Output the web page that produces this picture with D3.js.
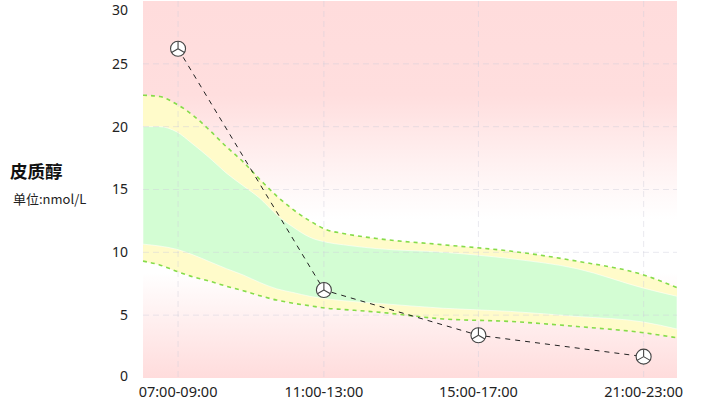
<!DOCTYPE html>
<html><head><meta charset="utf-8">
<script src="https://cdn.jsdelivr.net/npm/d3@7"></script>
<style>
html,body{margin:0;padding:0;background:#fff;}
svg{display:block;font-family:"Noto Sans","Noto Sans CJK SC",sans-serif;}
</style></head>
<body>
<svg id="chart" width="708" height="404"></svg>
<script>
// ---- data ----
const categories = ["07:00-09:00", "11:00-13:00", "15:00-17:00", "21:00-23:00"];
const categoryHours = [8.05, 12.42, 17.05, 22.0];
const cortisol = [26.2, 7.0, 3.4, 1.7];
const yTicks = [0, 5, 10, 15, 20, 25, 30];

const bandHours  = [7, 7.5, 8, 8.5, 9, 9.5, 10, 10.5, 11, 11.5, 12, 12.5, 13, 14, 16, 18, 20, 22, 23];
const outerUpper = [22.5, 22.4, 21.8, 20.9, 19.7, 18.4, 17.2, 15.8, 14.5, 13.4, 12.5, 11.8, 11.5, 11.1, 10.6, 10.1, 9.3, 8.2, 7.2];
const innerUpper = [20.0, 20.0, 19.6, 18.6, 17.5, 16.3, 15.3, 14.3, 13.0, 12.0, 11.2, 10.8, 10.6, 10.3, 10.0, 9.5, 8.7, 7.15, 6.5];
const innerLower = [10.65, 10.5, 10.25, 9.8, 9.25, 8.7, 8.2, 7.6, 7.1, 6.8, 6.5, 6.3, 6.15, 5.95, 5.55, 5.3, 4.9, 4.45, 3.9];
const outerLower = [9.3, 9.0, 8.5, 8.05, 7.7, 7.3, 6.95, 6.55, 6.2, 5.95, 5.75, 5.55, 5.45, 5.25, 4.7, 4.5, 4.1, 3.6, 3.2];

const title = "皮质醇";
const unit = "单位:nmol/L";

// ---- layout ----
const svg = d3.select("#chart");
const x = d3.scaleLinear().domain([7, 23]).range([143, 677]);
const y = d3.scaleLinear().domain([0, 30]).range([378, 1]);

const defs = svg.append("defs");
const grad = defs.append("linearGradient").attr("id", "bg").attr("x1", 0).attr("y1", 0).attr("x2", 0).attr("y2", 1);
[[0, "#ffdcdc"], [0.25, "#ffdede"], [0.52, "#fffafa"], [0.58, "#ffffff"], [0.72, "#ffffff"], [1, "#ffdcdc"]]
  .forEach(([o, c]) => grad.append("stop").attr("offset", o).attr("stop-color", c));

svg.append("rect")
  .attr("x", x(7)).attr("y", y(30))
  .attr("width", x(23) - x(7)).attr("height", y(0) - y(30))
  .attr("fill", "url(#bg)");

const band = bandHours.map((h, i) => ({h, ou: outerUpper[i], iu: innerUpper[i], il: innerLower[i], ol: outerLower[i]}));
const curve = d3.curveMonotoneX;

svg.append("path").datum(band)
  .attr("d", d3.area().curve(curve).x(d => x(d.h)).y0(d => y(d.ol)).y1(d => y(d.ou)))
  .attr("fill", "#fffbca");
svg.append("path").datum(band)
  .attr("d", d3.area().curve(curve).x(d => x(d.h)).y0(d => y(d.il)).y1(d => y(d.iu)))
  .attr("fill", "#d3fdd3").attr("stroke", "#ffffff").attr("stroke-width", 0.8).attr("stroke-opacity", 0.7);

// grid
const grid = svg.append("g");
grid.selectAll("line.h").data(yTicks.filter(t => t > 0 && t < 30)).join("line")
  .attr("x1", x(7)).attr("x2", x(23)).attr("y1", d => y(d)).attr("y2", d => y(d))
  .attr("stroke", "#cfcfdc").attr("stroke-opacity", 0.45).attr("stroke-dasharray", "6,4");
grid.selectAll("line.v").data(categoryHours).join("line")
  .attr("x1", d => x(d)).attr("x2", d => x(d)).attr("y1", y(30)).attr("y2", y(0))
  .attr("stroke", "#cfcfdc").attr("stroke-opacity", 0.45).attr("stroke-dasharray", "6,4");

// dashed band edges
["ou", "ol"].forEach(k => {
  svg.append("path").datum(band)
    .attr("d", d3.line().curve(curve).x(d => x(d.h)).y(d => y(d[k])))
    .attr("fill", "none").attr("stroke", "#86dc4a").attr("stroke-width", 1.6).attr("stroke-dasharray", "4,4");
});

// data line
const pts = categories.map((c, i) => ({c, h: categoryHours[i], v: cortisol[i]}));
svg.append("path").datum(pts)
  .attr("d", d3.line().x(d => x(d.h)).y(d => y(d.v)))
  .attr("fill", "none").attr("stroke", "#222").attr("stroke-width", 1).attr("stroke-dasharray", "5,5");

// markers
const r = 7.5;
const mk = svg.append("g").selectAll("g").data(pts).join("g")
  .attr("transform", d => `translate(${x(d.h)},${y(d.v)})`);
mk.append("circle").attr("r", r).attr("fill", "#fff").attr("stroke", "#444").attr("stroke-width", 1.1);
[-90, 30, 150].forEach(a => {
  const rad = a * Math.PI / 180;
  mk.append("line").attr("x1", 0).attr("y1", 0)
    .attr("x2", Math.cos(rad) * r).attr("y2", Math.sin(rad) * r)
    .attr("stroke", "#444").attr("stroke-width", 1.1);
});

// y labels
svg.append("g").selectAll("text").data(yTicks).join("text")
  .attr("x", 128).attr("y", d => Math.max(10, Math.min(376, y(d))))
  .attr("dy", "0.35em").attr("text-anchor", "end")
  .attr("font-size", 14).attr("fill", "#222").text(d => d);

// x labels
svg.append("g").selectAll("text").data(pts).join("text")
  .attr("x", d => x(d.h)).attr("y", 392).attr("dy", "0.35em").attr("text-anchor", "middle")
  .attr("font-size", 14.5).attr("fill", "#222").text(d => d.c);

// title + unit
svg.append("text").attr("x", 10).attr("y", 172).attr("dy", "0.35em")
  .attr("font-size", 17.5).attr("font-weight", "bold").attr("fill", "#111")
  .attr("font-family", "'Noto Sans CJK SC',sans-serif").text(title);
svg.append("text").attr("x", 13).attr("y", 199).attr("dy", "0.35em")
  .attr("font-size", 13).attr("fill", "#222")
  .attr("font-family", "'Noto Sans CJK SC',sans-serif").text(unit);
</script>
</body></html>
